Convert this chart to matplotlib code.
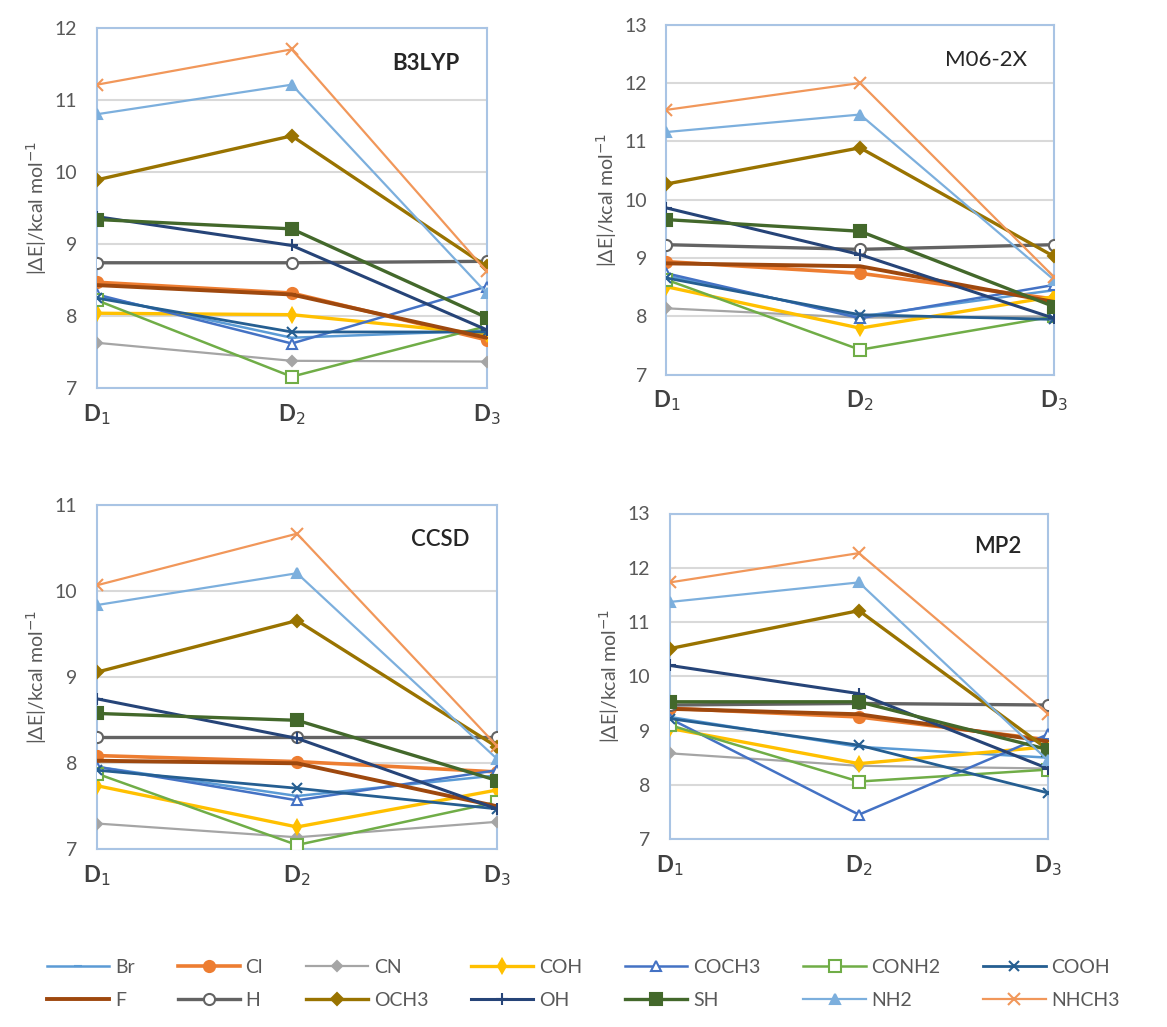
import matplotlib.pyplot as plt
from matplotlib.lines import Line2D

plt.rcParams['font.family'] = ['Lato', 'DejaVu Sans']

# categories (x axis) and substituents
points = ['D$_{1}$', 'D$_{2}$', 'D$_{3}$']
groups = ['Br', 'Cl', 'CN', 'COH', 'COCH3', 'CONH2', 'COOH',
          'F', 'H', 'OCH3', 'OH', 'SH', 'NH2', 'NHCH3']

# |dE| values, one list per substituent (D1, D2, D3)
b3lyp = {
    'Br': [8.28, 7.70, 7.80], 'Cl': [8.47, 8.32, 7.67], 'CN': [7.63, 7.38, 7.37],
    'COH': [8.04, 8.02, 7.75], 'COCH3': [8.30, 7.62, 8.41], 'CONH2': [8.22, 7.16, 7.86],
    'COOH': [8.25, 7.78, 7.78], 'F': [8.43, 8.30, 7.70], 'H': [8.74, 8.74, 8.76],
    'OCH3': [9.89, 10.50, 8.69], 'OH': [9.38, 8.98, 7.81], 'SH': [9.34, 9.21, 7.98],
    'NH2': [10.80, 11.21, 8.32], 'NHCH3': [11.21, 11.70, 8.62],
}
m062x = {
    'Br': [8.70, 8.00, 8.45], 'Cl': [8.94, 8.74, 8.30], 'CN': [8.14, 7.98, 8.00],
    'COH': [8.51, 7.80, 8.34], 'COCH3': [8.74, 7.97, 8.54], 'CONH2': [8.63, 7.43, 8.00],
    'COOH': [8.66, 8.03, 7.95], 'F': [8.91, 8.86, 8.25], 'H': [9.23, 9.15, 9.23],
    'OCH3': [10.27, 10.89, 9.03], 'OH': [9.86, 9.06, 7.97], 'SH': [9.66, 9.46, 8.17],
    'NH2': [11.16, 11.46, 8.63], 'NHCH3': [11.54, 12.00, 8.68],
}
ccsd = {
    'Br': [7.96, 7.62, 7.86], 'Cl': [8.09, 8.02, 7.90], 'CN': [7.30, 7.14, 7.32],
    'COH': [7.74, 7.26, 7.69], 'COCH3': [7.96, 7.57, 7.92], 'CONH2': [7.88, 7.05, 7.55],
    'COOH': [7.92, 7.71, 7.47], 'F': [8.03, 8.00, 7.50], 'H': [8.31, 8.31, 8.31],
    'OCH3': [9.06, 9.66, 8.19], 'OH': [8.75, 8.29, 7.47], 'SH': [8.58, 8.50, 7.80],
    'NH2': [9.84, 10.21, 8.05], 'NHCH3': [10.07, 10.67, 8.20],
}
mp2 = {
    'Br': [9.25, 8.70, 8.50], 'Cl': [9.41, 9.25, 8.83], 'CN': [8.58, 8.35, 8.30],
    'COH': [9.04, 8.39, 8.70], 'COCH3': [9.22, 7.45, 8.93], 'CONH2': [9.10, 8.06, 8.28],
    'COOH': [9.22, 8.73, 7.85], 'F': [9.40, 9.30, 8.80], 'H': [9.47, 9.50, 9.47],
    'OCH3': [10.51, 11.21, 8.65], 'OH': [10.20, 9.68, 8.30], 'SH': [9.53, 9.53, 8.65],
    'NH2': [11.37, 11.73, 8.45], 'NHCH3': [11.73, 12.27, 9.31],
}

colors = {
    'Br': '#5B9BD5', 'Cl': '#ED7D31', 'CN': '#A5A5A5', 'COH': '#FFC000',
    'COCH3': '#4472C4', 'CONH2': '#70AD47', 'COOH': '#255E91', 'F': '#9E480E',
    'H': '#636363', 'OCH3': '#997300', 'OH': '#264478', 'SH': '#43682B',
    'NH2': '#7CAFDD', 'NHCH3': '#F1975A',
}
# (marker, filled, size, linewidth)
styles = {
    'Br': ('_', True, 6, 1.8), 'Cl': ('o', True, 8, 2.6), 'CN': ('D', True, 5, 1.6),
    'COH': ('d', True, 7, 2.4), 'COCH3': ('^', False, 7, 1.8), 'CONH2': ('s', False, 8, 1.8),
    'COOH': ('x', True, 7, 2.0), 'F': ('_', True, 6, 2.8), 'H': ('o', False, 8, 2.4),
    'OCH3': ('D', True, 6, 2.4), 'OH': ('+', True, 9, 2.2), 'SH': ('s', True, 9, 2.4),
    'NH2': ('^', True, 7, 1.6), 'NHCH3': ('x', True, 9, 1.6),
}

panels = [
    ('B3LYP', b3lyp, (7, 12), [0.083, 0.622, 0.334, 0.351], 'bold'),
    ('M06-2X', m062x, (7, 13), [0.571, 0.635, 0.332, 0.341], 'normal'),
    ('CCSD', ccsd, (7, 11), [0.083, 0.173, 0.343, 0.335], 'semibold'),
    ('MP2', mp2, (7, 13), [0.574, 0.183, 0.324, 0.317], 'semibold'),
]

fig = plt.figure(figsize=(11.67, 10.27), dpi=100)

for name, data, ylim, rect, weight in panels:
    ax = fig.add_axes(rect)
    x = range(len(points))
    for g in groups:
        m, filled, ms, lw = styles[g]
        c = colors[g]
        ax.plot(x, data[g], color=c, lw=lw, marker=m, ms=ms,
                mfc=c if filled else 'white', mec=c, mew=1.5, zorder=3)
    ax.set_xlim(0, 2)
    ax.set_ylim(*ylim)
    ax.set_yticks(range(ylim[0], ylim[1] + 1))
    ax.set_xticks(list(x))
    ax.set_xticklabels(points, fontsize=16, fontweight='bold', color='#404040')
    ax.tick_params(axis='y', length=0, pad=14, labelsize=14, labelcolor='#595959')
    ax.tick_params(axis='x', length=0, pad=10)
    ax.grid(axis='y', color='#D9D9D9', lw=1.5, zorder=0)
    for s in ax.spines.values():
        s.set_color('#A9C4E4')
        s.set_linewidth(1.5)
    ax.set_ylabel('|ΔE|/kcal mol$^{-1}$', fontsize=14, color='#595959', labelpad=4)
    ax.text(0.93, 0.90, name, transform=ax.transAxes, ha='right', va='center',
            fontsize=16, fontweight=weight, color='#262626')

handles = {}
for g in groups:
    m, filled, ms, lw = styles[g]
    c = colors[g]
    handles[g] = Line2D([], [], color=c, lw=lw, marker=m, ms=ms,
                        mfc=c if filled else 'white', mec=c, mew=1.5)

# legend fills column by column, so interleave the two rows
order = []
for i in range(7):
    order += [groups[i], groups[i + 7]]
fig.legend([handles[g] for g in order], order, loc='center',
           bbox_to_anchor=(0.5, 0.042), ncol=7, frameon=False, fontsize=14,
           handlelength=3.2, columnspacing=2.2, labelspacing=0.8,
           labelcolor='#595959', handletextpad=0.3)

fig.savefig('out.png', dpi=100)
